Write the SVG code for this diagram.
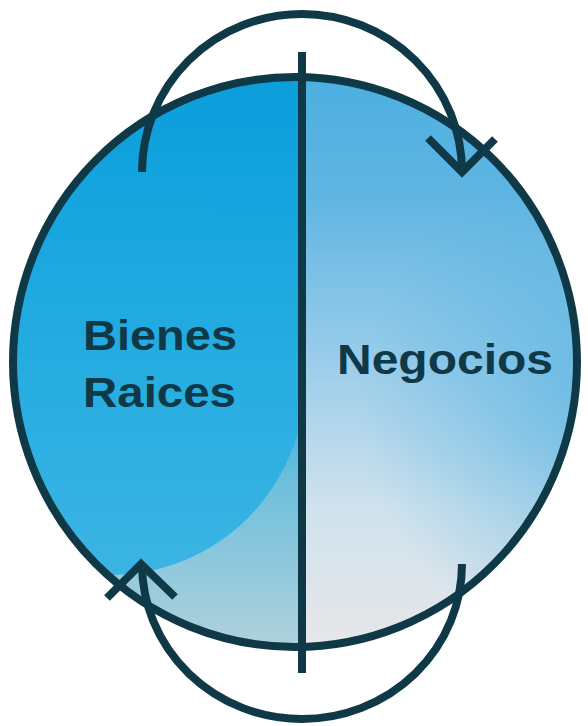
<svg xmlns="http://www.w3.org/2000/svg" width="588" height="726" viewBox="0 0 588 726">
  <style>
    .ln { fill: none; stroke: #0f3946; stroke-width: 8; stroke-linecap: butt; stroke-linejoin: miter; }
    .lbl { font-family: "Liberation Sans", Arial, sans-serif; font-weight: bold; fill: #0f3946; }
  </style>
  <defs>
    <clipPath id="circ"><ellipse cx="295" cy="362" rx="282" ry="285"/></clipPath>
    <clipPath id="leftHalf"><rect x="0" y="0" width="302" height="726"/></clipPath>
    <linearGradient id="leftBase" x1="0" y1="80" x2="0" y2="650" gradientUnits="userSpaceOnUse">
      <stop offset="0" stop-color="#0a9edb"/>
      <stop offset="0.2" stop-color="#15a4de"/>
      <stop offset="0.55" stop-color="#2aaee1"/>
      <stop offset="0.7" stop-color="#6cbfdc"/>
      <stop offset="1" stop-color="#b2d1dc"/>
    </linearGradient>
    <linearGradient id="leftCirc" x1="0" y1="185" x2="0" y2="575" gradientUnits="userSpaceOnUse">
      <stop offset="0" stop-color="#15a4de"/>
      <stop offset="0.55" stop-color="#29aee1"/>
      <stop offset="1" stop-color="#3bb4e3"/>
    </linearGradient>
    <linearGradient id="rightFill" x1="0" y1="80" x2="0" y2="650" gradientUnits="userSpaceOnUse">
      <stop offset="0" stop-color="#4dafe0"/>
      <stop offset="0.2" stop-color="#5fb5e2"/>
      <stop offset="0.5" stop-color="#9ccdea"/>
      <stop offset="0.75" stop-color="#cfe2ed"/>
      <stop offset="1" stop-color="#e7e7e9"/>
    </linearGradient>
    <radialGradient id="rightEdge" cx="620" cy="400" r="260" gradientUnits="userSpaceOnUse">
      <stop offset="0" stop-color="#4aaee0" stop-opacity="0.7"/>
      <stop offset="1" stop-color="#4aaee0" stop-opacity="0"/>
    </radialGradient>
  </defs>

  <g id="circle-fill" clip-path="url(#circ)">
    <rect x="0" y="60" width="302" height="600" fill="url(#leftBase)"/>
    <g clip-path="url(#leftHalf)">
      <circle cx="110" cy="380" r="195" fill="url(#leftCirc)"/>
    </g>
    <rect x="302" y="60" width="300" height="600" fill="url(#rightFill)"/>
    <rect x="302" y="60" width="300" height="600" fill="url(#rightEdge)"/>
  </g>

  <g id="node-bienes-raices">
    <text class="lbl" x="83" y="350" font-size="42" textLength="154" lengthAdjust="spacingAndGlyphs">Bienes</text>
    <text class="lbl" x="83" y="407" font-size="42" textLength="153" lengthAdjust="spacingAndGlyphs">Raices</text>
  </g>
  <g id="node-negocios">
    <text class="lbl" x="337" y="374" font-size="43" textLength="216" lengthAdjust="spacingAndGlyphs">Negocios</text>
  </g>

  <g id="connectors">
    <ellipse class="ln" cx="295" cy="362" rx="282" ry="285"/>
    <line class="ln" x1="302" y1="52" x2="302" y2="673"/>
    <path class="ln" d="M142,172 A160,158 0 0 1 462,172"/>
    <path class="ln" d="M428,138 L462,172 L495,139"/>
    <path class="ln" d="M142,564 A160,155 0 0 0 462,564"/>
    <path class="ln" d="M107,598 L141,564 L175,597"/>
  </g>
</svg>
